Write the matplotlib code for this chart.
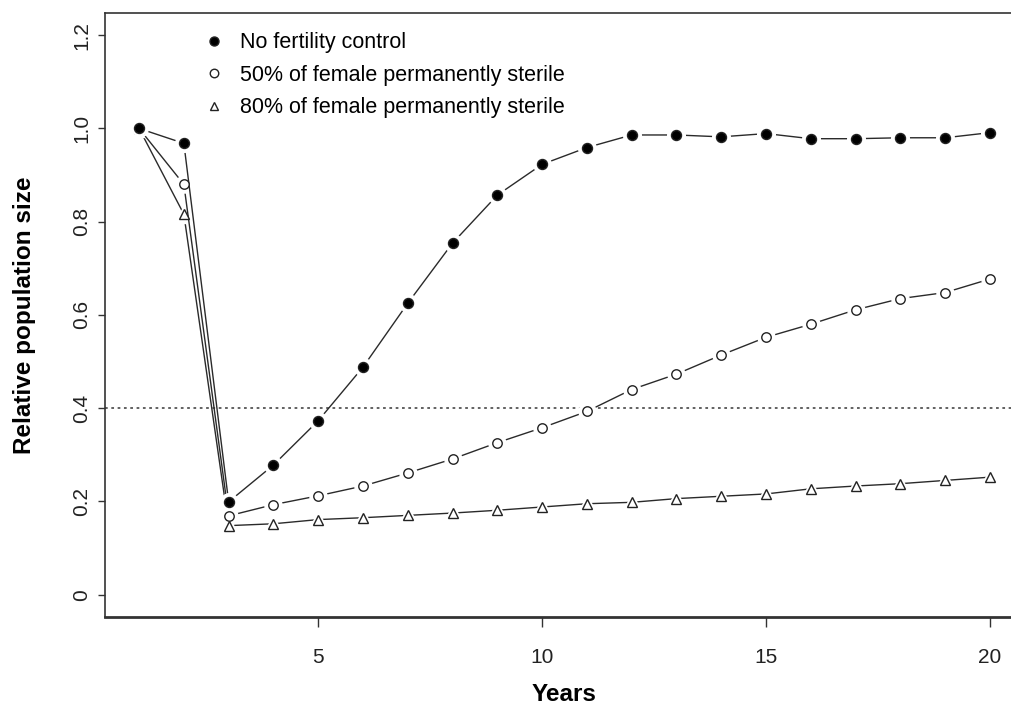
import matplotlib
matplotlib.use("Agg")
import matplotlib.pyplot as plt

years = list(range(1, 21))

# relative population size
no_control = [1.0, 0.968, 0.199, 0.278, 0.373, 0.488, 0.625, 0.754, 0.857, 0.923,
              0.959, 0.986, 0.986, 0.982, 0.989, 0.978, 0.978, 0.980, 0.980, 0.991]
sterile_50 = [1.0, 0.880, 0.169, 0.193, 0.212, 0.233, 0.261, 0.291, 0.326, 0.358,
              0.393, 0.440, 0.473, 0.514, 0.552, 0.580, 0.611, 0.635, 0.648, 0.677]
sterile_80 = [1.0, 0.816, 0.148, 0.152, 0.161, 0.165, 0.170, 0.175, 0.181, 0.188,
              0.195, 0.198, 0.206, 0.211, 0.216, 0.227, 0.233, 0.238, 0.245, 0.252]
threshold = 0.4

labels = ["No fertility control",
          "50% of female permanently sterile",
          "80% of female permanently sterile"]

plt.rcParams['font.family'] = ['Liberation Sans', 'DejaVu Sans']

fig = plt.figure(figsize=(10.12, 7.05), dpi=100)
ax = fig.add_axes([0.1038, 0.1248, 0.908, 0.857])

ax.axhline(threshold, color='#555555', linestyle=(0, (1.5, 2)), linewidth=1.3, zorder=1)

# R type="b" look: line, white halo round each point (leaves a gap), then the point
# (vals, marker, face, size, line z, marker z, label)
series = [
    (sterile_80, '^', 'white', 7, 2, 18, labels[2]),
    (sterile_50, 'o', 'white', 6.8, 4, 19, labels[1]),
    (no_control, 'o', 'black', 7.2, 6, 22, labels[0]),
]
handles = {}
for vals, mk, fc, ms, zl, zm, lab in series:
    ax.plot(years, vals, color='#2a2a2a', linewidth=1.0, zorder=zl)
    ax.plot(years, vals, linestyle='none', marker=mk, markersize=ms + 5.5,
            markerfacecolor='white', markeredgecolor='white', zorder=zl + 1)
    h, = ax.plot(years, vals, linestyle='none', marker=mk, markersize=ms,
                 markerfacecolor=fc, markeredgecolor='#222222', markeredgewidth=1.0,
                 zorder=zm, label=lab)
    handles[lab] = h

# small white ring round the filled points so the shared start point shows only them
ax.plot(years, no_control, linestyle='none', marker='o', markersize=10.2,
        markerfacecolor='white', markeredgecolor='white', zorder=19.5)

ax.legend([handles[l] for l in labels], labels, loc='upper left',
          bbox_to_anchor=(0.1, 0.982), frameon=False, fontsize=15.5,
          handlelength=0.8, handletextpad=0.8, labelspacing=0.53, markerscale=0.9,
          borderaxespad=0)

ax.set_xlim(0.24, 20.76)
ax.set_ylim(-0.048, 1.248)
ax.set_xticks([5, 10, 15, 20])
ax.set_yticks([0, 0.2, 0.4, 0.6, 0.8, 1.0, 1.2])
ax.set_yticklabels(['0', '0.2', '0.4', '0.6', '0.8', '1.0', '1.2'], rotation=90, va='center')
ax.tick_params(axis='both', direction='out', width=1.0, labelsize=15,
               color='#333333', labelcolor='#222222')
ax.tick_params(axis='x', length=7, pad=15)
ax.tick_params(axis='y', length=5, pad=5)

for side in ['left', 'top', 'bottom', 'right']:
    ax.spines[side].set_color('#333333')
    ax.spines[side].set_linewidth(1.2)
ax.spines['bottom'].set_linewidth(2.0)

ax.set_xlabel("Years", fontsize=17.5, fontweight='bold', labelpad=12)
ax.set_ylabel("Relative population size", fontsize=17.5, fontweight='bold', labelpad=26)

fig.savefig("out.png", dpi=100)
